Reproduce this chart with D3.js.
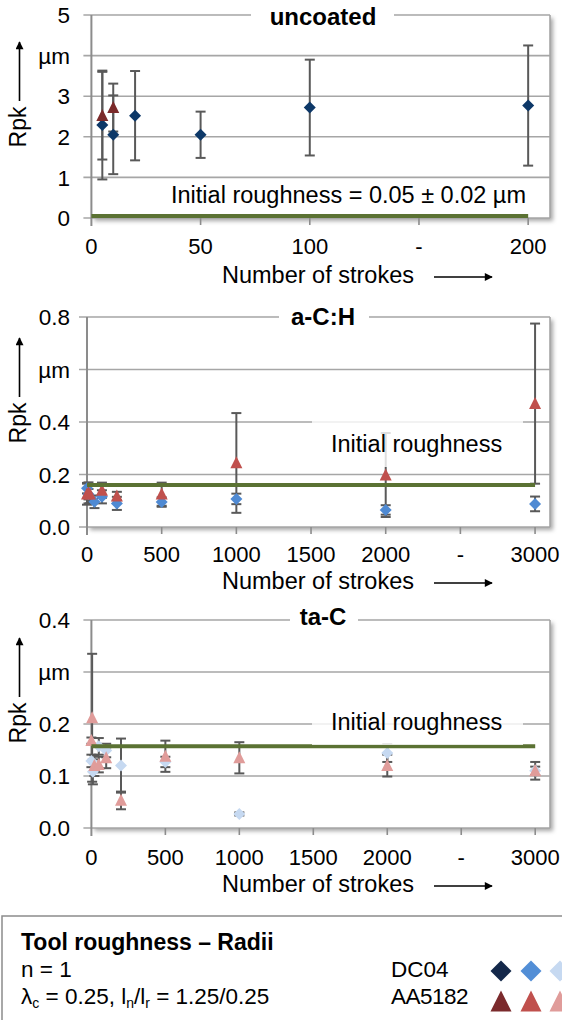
<!DOCTYPE html>
<html>
<head>
<meta charset="utf-8">
<script src="https://cdn.jsdelivr.net/npm/d3@7"></script>
<style>
  body { margin: 0; background: #fff; }
  svg { display: block; }
  text { font-family: "Liberation Sans", Arial, sans-serif; fill: #000; }
</style>
</head>
<body>
<div id="chart"></div>
<script>
// ---- Uncoated tool ----
const strokesUncoatedDC = [5, 10, 20, 50, 100, 200];
const rpkUncoatedDC     = [2.29, 2.05, 2.52, 2.05, 2.72, 2.77];
const errUncoatedDC     = [1.34, 0.97, 1.10, 0.57, 1.18, 1.48];
const strokesUncoatedAA = [5, 10];
const rpkUncoatedAA     = [2.52, 2.72];
const errUncoatedAA     = [1.08, 0.59];

// ---- a-C:H coated tool ----
const strokesAchDC = [0, 10, 50, 100, 200, 500, 1000, 2000, 3000];
const rpkAchDC     = [0.148, 0.125, 0.096, 0.115, 0.090, 0.095, 0.107, 0.065, 0.088];
const errAchDC     = [0.020, 0.020, 0.024, 0.025, 0.025, 0.018, 0.020, 0.018, 0.028];
const strokesAchAA = [0, 10, 20, 100, 200, 500, 1000, 2000, 3000];
const rpkAchAA     = [0.125, 0.130, 0.125, 0.140, 0.118, 0.125, 0.244, 0.198, 0.470];
const errAchAA     = [0.040, 0.040, 0.035, 0.029, 0.016, 0.044, 0.190, 0.160, 0.305];

// ---- ta-C coated tool ----
const strokesTacDC = [0, 10, 50, 100, 200, 500, 1000, 2000, 3000];
const rpkTacDC     = [0.129, 0.108, 0.157, 0.149, 0.120, 0.127, 0.027, 0.144, 0.110];
const errTacDC     = [0.012, 0.024, 0.016, 0.013, 0.052, 0.010, 0.003, 0.017, 0.008];
const strokesTacAA = [0, 5, 20, 50, 100, 200, 500, 1000, 2000, 3000];
const rpkTacAA     = [0.168, 0.212, 0.120, 0.122, 0.135, 0.053, 0.138, 0.135, 0.120, 0.110];
const errTacAA     = [0.006, 0.123, 0.020, 0.015, 0.020, 0.017, 0.030, 0.030, 0.021, 0.017];

// initial roughness of each tool (µm)
const initialRoughness = [0.05, 0.16, 0.157];

// axis ticks
const yTicksUncoated  = [0, 1, 2, 3, 4, 5];
const yLabelsUncoated = ["0", "1", "2", "3", "µm", "5"];
const xTicksUncoated  = [0, 50, 100, 150, 200];
const xLabelsUncoated = ["0", "50", "100", "-", "200"];
const yTicksAch  = [0, 0.2, 0.4, 0.6, 0.8];
const yLabelsAch = ["0.0", "0.2", "0.4", "µm", "0.8"];
const yTicksTac  = [0, 0.1, 0.2, 0.3, 0.4];
const yLabelsTac = ["0.0", "0.1", "0.2", "µm", "0.4"];
const xTicksCoated  = [0, 500, 1000, 1500, 2000, 2500, 3000];
const xLabelsCoated = ["0", "500", "1000", "1500", "2000", "-", "3000"];

const panelTitles = ["uncoated", "a-C:H", "ta-C"];
const substrates = ["DC04", "AA5182"];
const dcColors = ["#0d3868", "#4f8ad3", "#c6d9f1"];
const aaColors = ["#7b2a2a", "#c0504d", "#e09c9a"];
const legendDC = ["#14284a", "#528ed6", "#c6d9f1"];
const legendAA = ["#7b2a2c", "#c0504d", "#e09c9a"];

const W = 562, H = 1020, RIGHT = 550;
const GRID = "#a6a6a6", ERR = "#595959", GREEN = "#5b7233";

const svg = d3.select("#chart").append("svg").attr("width", W).attr("height", H);
const defs = svg.append("defs");
const f = defs.append("filter").attr("id", "shadow")
  .attr("x", "-5%").attr("y", "-5%").attr("width", "115%").attr("height", "120%");
f.append("feDropShadow").attr("dx", 3).attr("dy", 3).attr("stdDeviation", 2)
  .attr("flood-color", "#000").attr("flood-opacity", 0.35);
const arrowDef = defs.append("marker").attr("id", "arrow").attr("viewBox", "0 0 10 10")
  .attr("refX", 9).attr("refY", 5).attr("markerWidth", 9).attr("markerHeight", 8)
  .attr("markerUnits", "userSpaceOnUse").attr("orient", "auto");
arrowDef.append("path").attr("d", "M0,0 L10,5 L0,10 Z").attr("fill", "#000");

const diamond = r => `M0,${-r}L${r},0L0,${r}L${-r},0Z`;
const triangle = (w, h) => `M0,${-h * 0.55}L${w / 2},${h * 0.45}L${-w / 2},${h * 0.45}Z`;

function zip(xs, ys, es) { return xs.map((v, i) => ({ x: v, y: ys[i], e: es[i] })); }

function drawPanel(p) {
  const x = d3.scaleLinear().domain([0, p.xMax]).range([p.left, RIGHT]);
  const y = d3.scaleLinear().domain([0, p.yMax]).range([p.bottom, p.top]);
  const g = svg.append("g");

  // plot area with drop shadow
  g.append("rect").attr("x", p.left).attr("y", p.top)
    .attr("width", RIGHT - p.left).attr("height", p.bottom - p.top)
    .attr("fill", "#fff").attr("filter", "url(#shadow)");

  // horizontal gridlines (extend left as tick marks)
  g.selectAll(".grid").data(p.yTicks).join("line")
    .attr("x1", p.left - 8).attr("x2", RIGHT)
    .attr("y1", d => y(d)).attr("y2", d => y(d))
    .attr("stroke", GRID).attr("stroke-width", 1.6);
  // right border
  g.append("line").attr("x1", RIGHT).attr("x2", RIGHT).attr("y1", p.top).attr("y2", p.bottom)
    .attr("stroke", GRID).attr("stroke-width", 1.6);
  // y axis line
  g.append("line").attr("x1", p.left).attr("x2", p.left).attr("y1", p.top).attr("y2", p.bottom + 8)
    .attr("stroke", "#8c8c8c").attr("stroke-width", 2);
  // x ticks
  g.selectAll(".xt").data(p.xTicks.slice(1)).join("line")
    .attr("x1", d => x(d)).attr("x2", d => x(d))
    .attr("y1", p.bottom).attr("y2", p.bottom + 7)
    .attr("stroke", "#8c8c8c").attr("stroke-width", 1.6);

  // y tick labels
  g.selectAll(".yl").data(p.yTicks).join("text")
    .attr("x", 70).attr("y", d => y(d)).attr("dy", "0.36em")
    .attr("text-anchor", "end").attr("font-size", 22.5)
    .text((d, i) => p.yLabels[i]);
  // x tick labels
  g.selectAll(".xl").data(p.xTicks).join("text")
    .attr("x", d => x(d)).attr("y", p.tickBase)
    .attr("text-anchor", "middle").attr("font-size", 22)
    .text((d, i) => p.xLabels[i]);

  // title on white box over top gridline
  g.append("rect").attr("x", p.titleBox[0]).attr("y", p.top - 10)
    .attr("width", p.titleBox[1] - p.titleBox[0]).attr("height", 20).attr("fill", "#fff");
  g.append("text").attr("x", 323).attr("y", p.titleBase).attr("text-anchor", "middle")
    .attr("font-size", 24).attr("font-weight", "bold").text(p.title);

  // axis titles
  const rpkY = p.rpkCenter;
  g.append("text").attr("transform", `translate(26,${rpkY}) rotate(-90)`)
    .attr("text-anchor", "middle").attr("font-size", 23).text("Rpk");
  g.append("line").attr("x1", 19.5).attr("x2", 19.5).attr("y1", rpkY - 26).attr("y2", rpkY - 85)
    .attr("stroke", "#000").attr("stroke-width", 1.6).attr("marker-end", "url(#arrow)");
  g.append("text").attr("x", 222).attr("y", p.titleXBase).attr("font-size", 23.5)
    .text("Number of strokes");
  g.append("line").attr("x1", 434).attr("x2", 492).attr("y1", p.titleXBase - 6).attr("y2", p.titleXBase - 6)
    .attr("stroke", "#000").attr("stroke-width", 1.6).attr("marker-end", "url(#arrow)");

  // error bars for both substrates
  const allSeries = [
    { pts: zip(p.dc[0], p.dc[1], p.dc[2]), color: p.dcColor, shape: "d" },
    { pts: zip(p.aa[0], p.aa[1], p.aa[2]), color: p.aaColor, shape: "t" }
  ];
  allSeries.forEach(s => {
    const eb = g.append("g").attr("stroke", ERR).attr("stroke-width", 2);
    s.pts.forEach(d => {
      const cx = x(d.x), y1 = y(d.y - d.e), y2 = y(d.y + d.e);
      eb.append("line").attr("x1", cx).attr("x2", cx).attr("y1", y1).attr("y2", y2);
      eb.append("line").attr("x1", cx - 5).attr("x2", cx + 5).attr("y1", y1).attr("y2", y1);
      eb.append("line").attr("x1", cx - 5).attr("x2", cx + 5).attr("y1", y2).attr("y2", y2);
    });
  });
  allSeries.forEach(s => {
    g.selectAll(null).data(s.pts).join("path")
      .attr("transform", d => `translate(${x(d.x)},${y(d.y)})`)
      .attr("d", s.shape === "d" ? diamond(6) : triangle(12, 12))
      .attr("fill", s.color);
  });

  // initial roughness line
  g.append("line").attr("x1", x(0)).attr("x2", x(p.xLast))
    .attr("y1", y(p.initial)).attr("y2", y(p.initial))
    .attr("stroke", GREEN).attr("stroke-width", 4);

  if (p.labelBox) {
    g.append("rect").attr("x", 312).attr("y", p.labelBase - 34).attr("width", 211)
      .attr("height", 49).attr("fill", "#fff").attr("opacity", 0.8);
  }
  g.append("text").attr("x", p.labelX).attr("y", p.labelBase).attr("font-size", 23.5)
    .text(p.label);
}

drawPanel({
  title: panelTitles[0], left: 91.4, top: 15, bottom: 218, xMax: 210, yMax: 5, xLast: 200,
  yTicks: yTicksUncoated, yLabels: yLabelsUncoated, xTicks: xTicksUncoated, xLabels: xLabelsUncoated,
  tickBase: 254, titleXBase: 283, titleBase: 25, titleBox: [251, 394], rpkCenter: 127,
  dc: [strokesUncoatedDC, rpkUncoatedDC, errUncoatedDC], aa: [strokesUncoatedAA, rpkUncoatedAA, errUncoatedAA],
  dcColor: dcColors[0], aaColor: aaColors[0], initial: initialRoughness[0],
  label: "Initial roughness =  0.05 ± 0.02 µm", labelX: 171, labelBase: 203, labelBox: false
});
drawPanel({
  title: panelTitles[1], left: 87, top: 317, bottom: 527, xMax: 3100, yMax: 0.8, xLast: 3000,
  yTicks: yTicksAch, yLabels: yLabelsAch, xTicks: xTicksCoated, xLabels: xLabelsCoated,
  tickBase: 562, titleXBase: 589, titleBase: 325, titleBox: [279, 369], rpkCenter: 423,
  dc: [strokesAchDC, rpkAchDC, errAchDC], aa: [strokesAchAA, rpkAchAA, errAchAA],
  dcColor: dcColors[1], aaColor: aaColors[1], initial: initialRoughness[1],
  label: "Initial roughness", labelX: 331, labelBase: 452, labelBox: true
});
drawPanel({
  title: panelTitles[2], left: 91.4, top: 620, bottom: 828, xMax: 3100, yMax: 0.4, xLast: 3000,
  yTicks: yTicksTac, yLabels: yLabelsTac, xTicks: xTicksCoated, xLabels: xLabelsCoated,
  tickBase: 865, titleXBase: 892, titleBase: 625, titleBox: [290, 358], rpkCenter: 723,
  dc: [strokesTacDC, rpkTacDC, errTacDC], aa: [strokesTacAA, rpkTacAA, errTacAA],
  dcColor: dcColors[2], aaColor: aaColors[2], initial: initialRoughness[2],
  label: "Initial roughness", labelX: 331, labelBase: 730, labelBox: true
});

// ---- legend ----
const lg = svg.append("g");
lg.append("rect").attr("x", 2).attr("y", 916).attr("width", 600).attr("height", 200)
  .attr("fill", "#fff").attr("stroke", "#8c8c8c").attr("stroke-width", 1.5);
lg.append("text").attr("x", 21).attr("y", 950).attr("font-size", 23).attr("font-weight", "bold")
  .text("Tool  roughness – Radii");
lg.append("text").attr("x", 21).attr("y", 977).attr("font-size", 22.5).text("n = 1");
const lam = lg.append("text").attr("x", 21).attr("y", 1004).attr("font-size", 22.5);
lam.append("tspan").text("λ");
lam.append("tspan").attr("font-size", 14).attr("dy", 4).text("c");
lam.append("tspan").attr("dy", -4).text(" = 0.25, l");
lam.append("tspan").attr("font-size", 14).attr("dy", 4).text("n");
lam.append("tspan").attr("dy", -4).text("/l");
lam.append("tspan").attr("font-size", 14).attr("dy", 4).text("r");
lam.append("tspan").attr("dy", -4).text(" = 1.25/0.25");
lg.append("text").attr("x", 391).attr("y", 977).attr("font-size", 22.5).text(substrates[0]);
lg.append("text").attr("x", 391).attr("y", 1004).attr("font-size", 22.5).attr("letter-spacing", "-0.5").text(substrates[1]);
const legX = [501, 531, 560];
lg.selectAll(".ld").data(legendDC).join("path")
  .attr("transform", (d, i) => `translate(${legX[i]},971)`)
  .attr("d", diamond(10.5)).attr("fill", d => d);
lg.selectAll(".la").data(legendAA).join("path")
  .attr("transform", (d, i) => `translate(${legX[i]},1002)`)
  .attr("d", triangle(21, 21)).attr("fill", d => d);
</script>
</body>
</html>
